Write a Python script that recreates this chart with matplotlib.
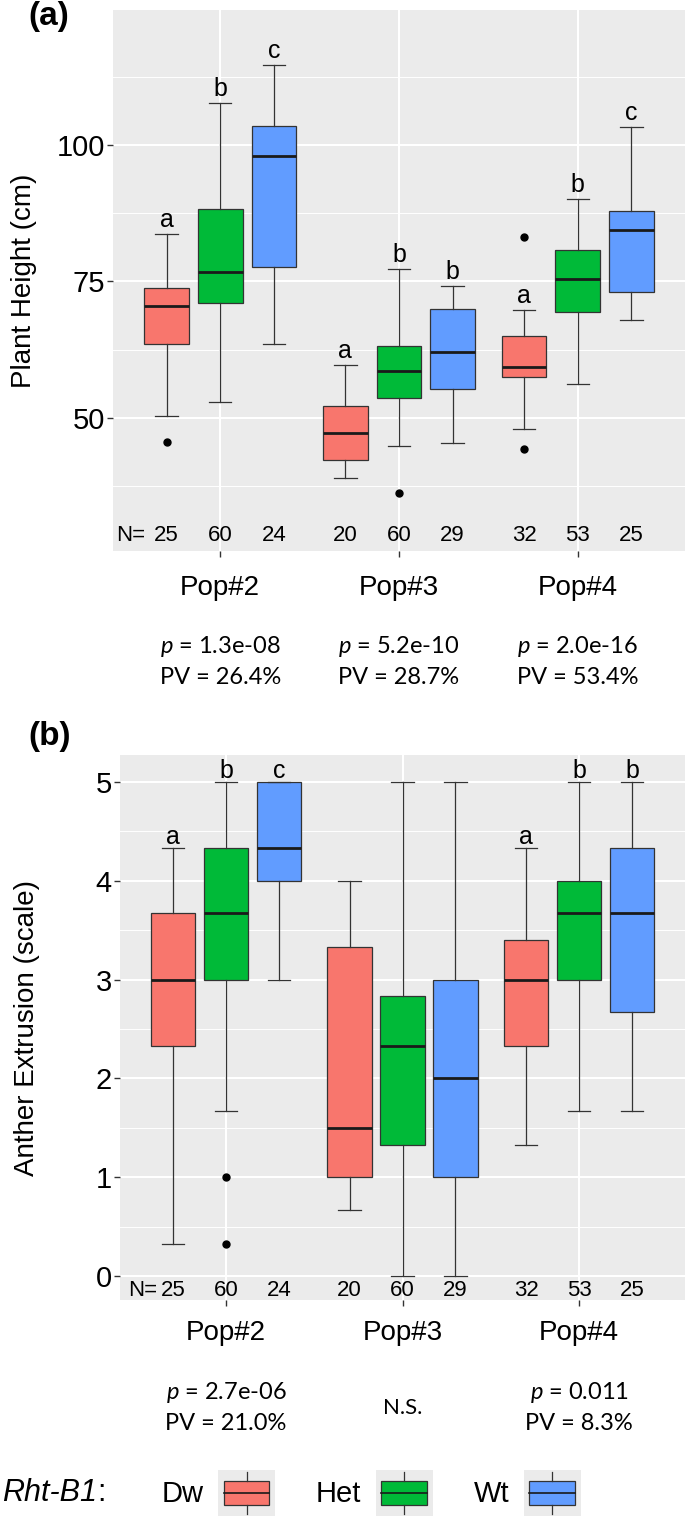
import matplotlib
matplotlib.use('Agg')
import matplotlib.pyplot as plt
from matplotlib.patches import Patch, Rectangle
from matplotlib.lines import Line2D
from matplotlib.legend_handler import HandlerBase
from matplotlib.transforms import blended_transform_factory

plt.rcParams['font.family'] = ['Liberation Sans', 'DejaVu Sans']
plt.rcParams['mathtext.fontset'] = 'custom'
plt.rcParams['mathtext.it'] = 'Lato:italic'
plt.rcParams['mathtext.rm'] = 'Lato'

pops = ['Pop#2', 'Pop#3', 'Pop#4']
genotypes = ['Dw', 'Het', 'Wt']
colors = ['#F8766D', '#00BA38', '#619CFF']
n_counts = [[25, 60, 24], [20, 60, 29], [32, 53, 25]]

# (a) plant height, rows = populations, cols = Dw/Het/Wt
ph_whislo = [[50.3, 52.9, 63.6], [39.0, 44.8, 45.4], [47.9, 56.1, 67.9]]
ph_q1 = [[63.6, 71.1, 77.7], [42.2, 53.6, 55.2], [57.5, 69.3, 73.1]]
ph_med = [[70.4, 76.7, 97.9], [47.3, 58.5, 62.1], [59.3, 75.4, 84.4]]
ph_q3 = [[73.7, 88.2, 103.5], [52.2, 63.1, 70.0], [64.9, 80.7, 87.9]]
ph_whishi = [[83.7, 107.6, 114.6], [59.7, 77.3, 74.1], [69.7, 90.0, 103.3]]
ph_fliers = [[[45.6], [], []], [[], [36.3], []], [[83.2, 44.2], [], []]]
ph_letters = [['a', 'b', 'c'], ['a', 'b', 'b'], ['a', 'b', 'c']]
ph_p = ['1.3e-08', '5.2e-10', '2.0e-16']
ph_pv = ['26.4%', '28.7%', '53.4%']

# (b) anther extrusion
ae_whislo = [[0.33, 1.67, 3.0], [0.67, 0.0, 0.0], [1.33, 1.67, 1.67]]
ae_q1 = [[2.33, 3.0, 4.0], [1.0, 1.33, 1.0], [2.33, 3.0, 2.67]]
ae_med = [[3.0, 3.67, 4.33], [1.5, 2.33, 2.0], [3.0, 3.67, 3.67]]
ae_q3 = [[3.67, 4.33, 5.0], [3.33, 2.83, 3.0], [3.4, 4.0, 4.33]]
ae_whishi = [[4.33, 5.0, 5.0], [4.0, 5.0, 5.0], [4.33, 5.0, 5.0]]
ae_fliers = [[[], [1.0, 0.33], []], [[], [], []], [[], [], []]]
ae_letters = [['a', 'b', 'c'], ['', '', ''], ['a', 'b', 'b']]
ae_p = ['2.7e-06', None, '0.011']
ae_pv = ['21.0%', None, '8.3%']

offsets = [-0.3, 0.0, 0.3]
edge = '#333333'


def draw_panel(ax, whislo, q1, med, q3, whishi, fliers, letters, pvals, pvs,
               ylim, yticks, yminor, ylabel, n_y, n_gap, letter_pad,
               text_y, label_x):
    ax.set_facecolor('#EBEBEB')
    ax.set_axisbelow(True)
    trans = blended_transform_factory(ax.transData, ax.transAxes)
    for i in range(len(pops)):
        stats = []
        for j in range(len(genotypes)):
            stats.append(dict(whislo=whislo[i][j], q1=q1[i][j], med=med[i][j],
                              q3=q3[i][j], whishi=whishi[i][j], fliers=fliers[i][j]))
        pos = [i + 1 + o for o in offsets]
        bp = ax.bxp(stats, positions=pos, widths=0.25, capwidths=0.125,
                    patch_artist=True, showfliers=True,
                    boxprops=dict(edgecolor=edge, linewidth=0.9),
                    medianprops=dict(color='#1a1a1a', linewidth=2.0),
                    whiskerprops=dict(color=edge, linewidth=0.9),
                    capprops=dict(color=edge, linewidth=0.9),
                    flierprops=dict(marker='o', markerfacecolor='black',
                                    markeredgecolor='black', markersize=5))
        for patch, c in zip(bp['boxes'], colors):
            patch.set_facecolor(c)
        for j, x in enumerate(pos):
            if letters[i][j]:
                ax.annotate(letters[i][j], (x, whishi[i][j]), xytext=(0, letter_pad),
                            textcoords='offset points', ha='center', va='baseline',
                            fontsize=18)
            ax.text(x, n_y, str(n_counts[i][j]), ha='center', va='center', fontsize=16)
        ax.text(i + 1, text_y[0], pops[i], transform=trans, ha='center',
                va='center', fontsize=20)
        if pvals[i] is not None:
            ax.text(i + 1, text_y[1], r'$p$ = ' + pvals[i], transform=trans,
                    ha='center', va='center', fontsize=17, family='Lato')
            ax.text(i + 1, text_y[2], 'PV = ' + pvs[i], transform=trans,
                    ha='center', va='center', fontsize=17, family='Lato')
        else:
            ax.text(i + 1, (text_y[1] + text_y[2]) / 2, 'N.S.', transform=trans,
                    ha='center', va='center', fontsize=16, family='Lato')
    ax.text(1 + offsets[0] - n_gap, n_y, 'N=', ha='right', va='center', fontsize=16)

    ax.set_xlim(0.4, 3.6)
    ax.set_ylim(*ylim)
    ax.set_xticks([1, 2, 3])
    ax.set_xticklabels([])
    ax.set_yticks(yticks)
    ax.set_yticks(yminor, minor=True)
    ax.tick_params(which='major', length=4, width=1, color=edge, labelsize=21,
                   labelcolor='black', pad=2)
    ax.tick_params(which='minor', length=0)
    ax.grid(which='major', color='white', linewidth=1.5)
    ax.grid(which='minor', axis='y', color='white', linewidth=0.7)
    for s in ax.spines.values():
        s.set_visible(False)
    ax.set_ylabel(ylabel, fontsize=20)
    ax.yaxis.set_label_coords(label_x, 0.5)


class BoxKeyHandler(HandlerBase):
    def create_artists(self, legend, orig_handle, xdescent, ydescent, width,
                       height, fontsize, trans):
        x0, y0 = -xdescent, -ydescent
        xc = x0 + width / 2
        bg = Rectangle((x0, y0), width, height, facecolor='#EBEBEB',
                       edgecolor='none', transform=trans)
        box = Rectangle((x0 + 0.1 * width, y0 + 0.25 * height), 0.8 * width,
                        0.5 * height, facecolor=orig_handle.get_facecolor(),
                        edgecolor=edge, linewidth=0.9, transform=trans)
        med = Line2D([x0 + 0.1 * width, x0 + 0.9 * width], [y0 + height / 2] * 2,
                     color='#1a1a1a', linewidth=1.2, transform=trans)
        wlo = Line2D([xc, xc], [y0 + 0.05 * height, y0 + 0.25 * height],
                     color=edge, linewidth=0.9, transform=trans)
        whi = Line2D([xc, xc], [y0 + 0.75 * height, y0 + 0.95 * height],
                     color=edge, linewidth=0.9, transform=trans)
        return [bg, box, med, wlo, whi]


fig = plt.figure(figsize=(6.85, 15.24), dpi=100)
ax1 = fig.add_axes([113 / 685, 1 - 551 / 1524, 572 / 685, 541 / 1524])
ax2 = fig.add_axes([120 / 685, 1 - 1300 / 1524, 565 / 685, 545 / 1524])

draw_panel(ax1, ph_whislo, ph_q1, ph_med, ph_q3, ph_whishi, ph_fliers, ph_letters,
           ph_p, ph_pv, (25.6, 124.7), [50, 75, 100], [37.5, 62.5, 87.5, 112.5],
           'Plant Height (cm)', 28.5, 0.12, 5, (-0.068, -0.176, -0.233), -0.133)
draw_panel(ax2, ae_whislo, ae_q1, ae_med, ae_q3, ae_whishi, ae_fliers, ae_letters,
           ae_p, ae_pv, (-0.24, 5.27), [0, 1, 2, 3, 4, 5], [0.5, 1.5, 2.5, 3.5, 4.5],
           'Anther Extrusion (scale)', -0.14, 0.09, 3, (-0.061, -0.169, -0.226), -0.142)

fig.text(49 / 685, 1 - 17 / 1524, '(a)', ha='center', va='center', fontsize=24,
         fontweight='bold')
fig.text(50 / 685, 1 - 737 / 1524, '(b)', ha='center', va='center', fontsize=24,
         fontweight='bold')

t = fig.text(2 / 685, 1 - 1493 / 1524, 'Rht-B1', ha='left', va='center',
             fontsize=22, style='italic')
fig.canvas.draw()
bb = t.get_window_extent()
fig.text(bb.x1 / fig.bbox.width, 1 - 1493 / 1524, ':', ha='left', va='center',
         fontsize=22)

handles = [Patch(facecolor=c) for c in colors]
fig.legend(handles, genotypes, handler_map={Patch: BoxKeyHandler()},
           loc='center', bbox_to_anchor=(371 / 685, 1 - 1493 / 1524), ncol=3,
           frameon=False, markerfirst=False, fontsize=21, handlelength=1.95,
           handleheight=2.05, handletextpad=0.5, columnspacing=1.4, borderpad=0)

fig.savefig('out.png', dpi=100)
